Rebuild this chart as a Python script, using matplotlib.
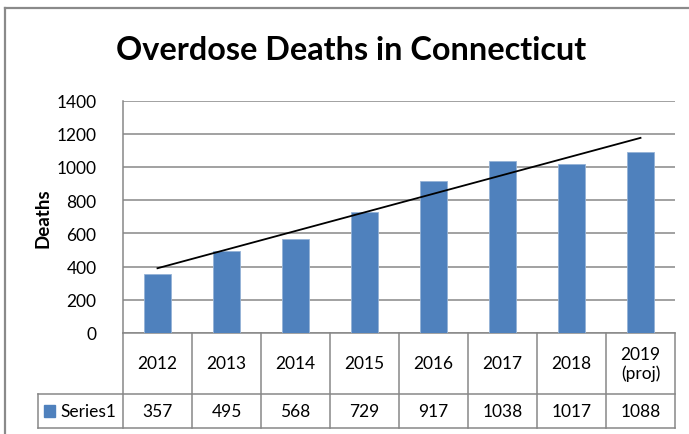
import numpy as np
import matplotlib.pyplot as plt
from matplotlib.lines import Line2D
from matplotlib.patches import Rectangle

plt.rcParams['font.family'] = ['Lato', 'DejaVu Sans']

years = ['2012', '2013', '2014', '2015', '2016', '2017', '2018', '2019\n(proj)']
deaths = [357, 495, 568, 729, 917, 1038, 1017, 1088]
# hand drawn trend line in the original
trend_ends = [390, 1175]
yticks = [0, 200, 400, 600, 800, 1000, 1200, 1400]

bar_col = '#4F81BD'
grid_col = '#878787'

fig = plt.figure(figsize=(6.89, 4.35), dpi=100)
ax = fig.add_axes([123/689, 101/435, 552/689, 232.5/435])

x = np.arange(len(years))
ax.bar(x, deaths, width=0.4, color=bar_col, edgecolor='#95B3D7', linewidth=0.6, zorder=3)
ax.plot([x[0], x[-1]], trend_ends, color='black', linewidth=1.3, zorder=4)

ax.set_xlim(-0.5, len(years) - 0.5)
ax.set_ylim(0, 1400)
ax.set_yticks(yticks)
ax.set_xticks([])
ax.tick_params(axis='y', length=0, pad=19, labelsize=12.5)
ax.grid(axis='y', color=grid_col, linewidth=1.1, zorder=0)
for s in ['top', 'right']:
    ax.spines[s].set_visible(False)
ax.spines['left'].set_color(grid_col)
ax.spines['bottom'].set_color(grid_col)
ax.spines['left'].set_linewidth(1.1)
ax.spines['bottom'].set_linewidth(1.1)
ax.set_ylabel('Deaths', fontsize=13.5, fontweight='bold')
ax.yaxis.set_label_coords(-0.13, 0.5)

fig.text(0.510, 0.885, 'Overdose Deaths in Connecticut', ha='center', va='center',
         fontsize=23.3, fontweight='bold')

# data table under the axis
tr = ax.get_xaxis_transform()
h1 = -61/232.5
h2 = -95/232.5
lab_left = -0.5 + (38 - 123) / 69
lw = 1.1
for i in range(len(years) + 1):
    xx = i - 0.5
    ax.add_line(Line2D([xx, xx], [0, h2], transform=tr, color=grid_col, lw=lw, clip_on=False))
ax.add_line(Line2D([lab_left, lab_left], [h1, h2], transform=tr, color=grid_col, lw=lw, clip_on=False))
ax.add_line(Line2D([lab_left, len(years) - 0.5], [h1, h1], transform=tr, color=grid_col, lw=lw, clip_on=False))
ax.add_line(Line2D([lab_left, len(years) - 0.5], [h2, h2], transform=tr, color=grid_col, lw=lw, clip_on=False))

for i, (yr, d) in enumerate(zip(years, deaths)):
    ax.text(i, h1 / 2, yr, transform=tr, ha='center', va='center', fontsize=12.5,
            linespacing=1.2, clip_on=False)
    ax.text(i, (h1 + h2) / 2, str(d), transform=tr, ha='center', va='center',
            fontsize=12.5, clip_on=False)

ax.add_patch(Rectangle((lab_left + 6/69, (h1 + h2) / 2 - 6/232.5), 11/69, 12/232.5,
                       transform=tr, color=bar_col, clip_on=False))
ax.text(lab_left + 22/69, (h1 + h2) / 2, 'Series1', transform=tr, ha='left', va='center',
        fontsize=12.5, clip_on=False)

# outer chart frame
fig.add_artist(Line2D([5/689, 5/689], [0, 1 - 9/435], color='#8A8A8A', lw=1.6))
fig.add_artist(Line2D([5/689, 1], [1 - 9/435, 1 - 9/435], color='#8A8A8A', lw=1.6))

fig.savefig('out.png', dpi=100)
